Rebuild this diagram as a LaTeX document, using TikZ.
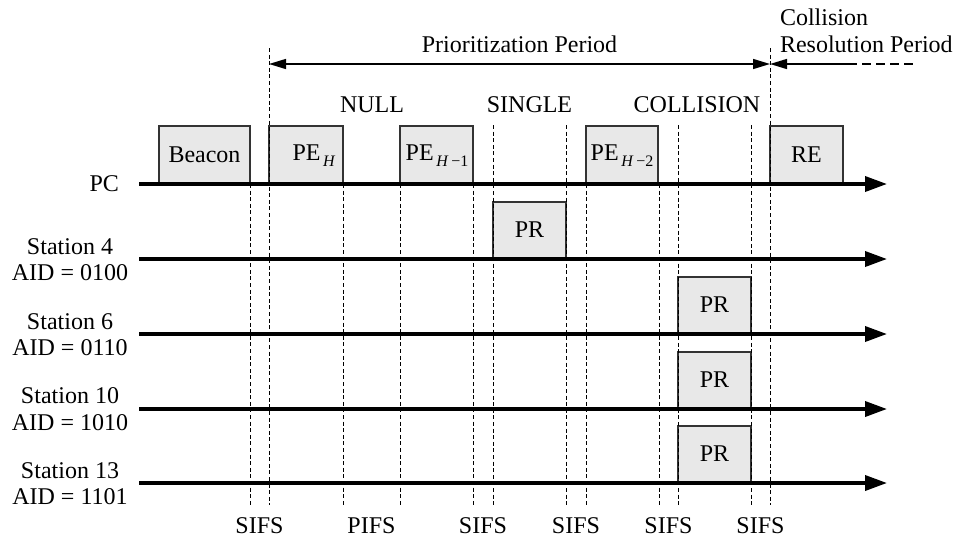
\documentclass[tikz,border=0pt]{standalone}
\usepackage{fontspec}
\setmainfont{Liberation Serif}
\usetikzlibrary{arrows.meta}

% subscript used in the polling-element labels
\newcommand{\pesub}[1]{\raisebox{-0.27em}{\fontsize{16}{16}\selectfont\,#1}}

\begin{document}
\begin{tikzpicture}[x=1pt,y=-1pt,
  every node/.style={font=\fontsize{24}{26}\selectfont, inner sep=0pt, outer sep=0pt},
  frame/.style={draw=black!80, line width=1.3pt, fill=black!9, minimum height=58pt, anchor=south west},
  timeline/.style={line width=3.6pt, -{Triangle[length=22pt,width=15pt]}},
  slot/.style={line width=0.9pt, dash pattern=on 4pt off 2.6pt},
  period/.style={line width=1.4pt},
  lbl/.style={anchor=base}]
\useasboundingbox (0,0) rectangle (956,542);

% ---- frames sent by the point coordinator
\node[frame, minimum width=91pt] (beacon) at (159,184) {};
\node[lbl] at (204.5,162) {Beacon};
\node[frame, minimum width=74pt] (peh) at (269,184) {};
\node[lbl] at (314,160) {PE\pesub{\textit{H}}};
\node[frame, minimum width=73pt] (peh1) at (400,184) {};
\node[lbl] at (437,160) {PE\pesub{\textit{H}\,−1}};
\node[frame, minimum width=72pt] (peh2) at (586,184) {};
\node[lbl] at (622,160) {PE\pesub{\textit{H}\,−2}};
\node[frame, minimum width=73pt] (re) at (770,184) {};
\node[lbl] at (806.5,162) {RE};

% ---- priority responses from the stations
\node[frame, minimum width=73pt, minimum height=57pt] (pr4) at (493,259) {};
\node[lbl] at (529.5,237) {PR};
\node[frame, minimum width=73pt, minimum height=57pt] (pr6) at (678,334) {};
\node[lbl] at (714.5,312) {PR};
\node[frame, minimum width=73pt, minimum height=57pt] (pr10) at (678,409) {};
\node[lbl] at (714.5,387) {PR};
\node[frame, minimum width=73pt, minimum height=57pt] (pr13) at (678,483) {};
\node[lbl] at (714.5,461) {PR};

% ---- interframe space markers
\foreach \x/\t in {250/184, 269/48, 343/184, 400/184, 473/184, 493/125,
                   566/125, 586/184, 659/184, 678/125, 751/125, 770/48}
  \draw[slot] (\x,\t) -- (\x,505);

% ---- time axes
\coordinate (pcL) at (139,184);  \coordinate (pcR) at (887,184);
\coordinate (s4L) at (139,259);  \coordinate (s4R) at (887,259);
\coordinate (s6L) at (139,334);  \coordinate (s6R) at (887,334);
\coordinate (s10L) at (139,409); \coordinate (s10R) at (887,409);
\coordinate (s13L) at (139,483); \coordinate (s13R) at (887,483);
\draw[timeline] (pcL) -- (pcR);
\draw[timeline] (s4L) -- (s4R);
\draw[timeline] (s6L) -- (s6R);
\draw[timeline] (s10L) -- (s10R);
\draw[timeline] (s13L) -- (s13R);

% ---- axis names
\node[anchor=base east] (pc) at (119,191) {PC};
\node[lbl] (n4) at (70,254) {Station 4};   \node[lbl] at (70,280) {AID = 0100};
\node[lbl] (n6) at (70,329) {Station 6};   \node[lbl] at (70,355) {AID = 0110};
\node[lbl] (n10) at (70,403) {Station 10}; \node[lbl] at (70,430) {AID = 1010};
\node[lbl] (n13) at (70,478) {Station 13}; \node[lbl] at (70,504) {AID = 1101};

% ---- periods
\coordinate (ppL) at (269,64); \coordinate (ppR) at (770,64);
\coordinate (crL) at (770,64); \coordinate (crM) at (848,64); \coordinate (crR) at (917,64);
\draw[period, {Triangle[length=17pt,width=10pt]}-{Triangle[length=17pt,width=10pt]}] (ppL) -- (ppR);
\draw[period, {Triangle[length=17pt,width=10pt]}-] (crL) -- (crM);
\draw[period, dash pattern=on 9pt off 5pt] (crM) -- (crR);
\node[lbl] at (519.5,52) {Prioritization Period};
\node[anchor=base west] at (780,25) {Collision};
\node[anchor=base west] at (780,52) {Resolution Period};

% ---- outcomes of the polling rounds
\node[lbl] at (372,112) {NULL};
\node[lbl] at (529.5,112) {SINGLE};
\node[lbl] at (697,112) {COLLISION};

% ---- interframe space names
\node[lbl] at (259.5,533) {SIFS};
\node[lbl] at (371.5,533) {PIFS};
\node[lbl] at (483,533) {SIFS};
\node[lbl] at (576,533) {SIFS};
\node[lbl] at (668.5,533) {SIFS};
\node[lbl] at (760.5,533) {SIFS};
\end{tikzpicture}
\end{document}
